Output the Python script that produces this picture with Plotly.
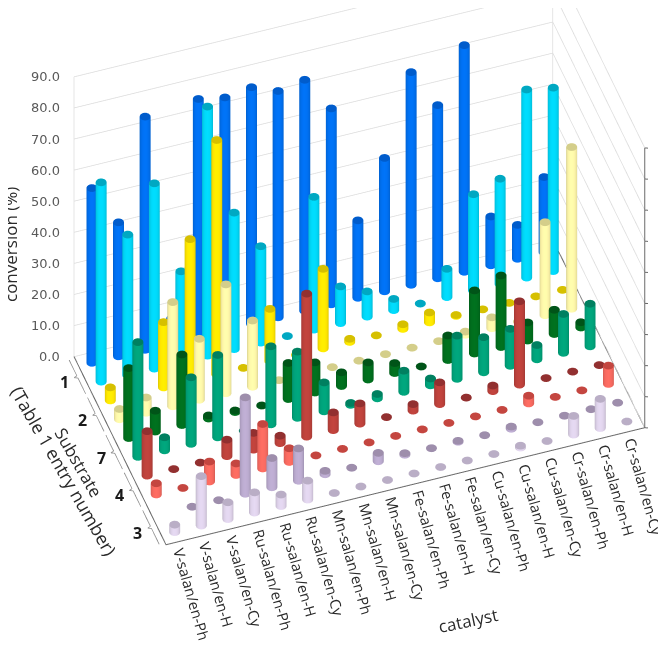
import math
import plotly.graph_objects as go

catalysts = ["V-salan/en-Ph","V-salan/en-H","V-salan/en-Cy","Ru-salan/en-Ph","Ru-salan/en-H","Ru-salan/en-Cy",
             "Mn-salan/en-Ph","Mn-salan/en-H","Mn-salan/en-Cy","Fe-salan/en-Ph","Fe-salan/en-H","Fe-salan/en-Cy",
             "Cu-salan/en-Ph","Cu-salan/en-H","Cu-salan/en-Cy","Cr-salan/en-Ph","Cr-salan/en-H","Cr-salan/en-Cy"]
substrates = ["3","4","7","2","1"]
z_ticks = [0,10,20,30,40,50,60,70,80,90]

lilac  = [2.4,15.9,5.4,6.5,3.7,6.1,0,0,0,0,0,0,0,0.6,0,6,9.4,0]
purple = [None,0,0,31,9.4,10.4,1.1,0,2.7,0.5,0,0.3,0,0.7,0,0,0,0]
salmon = [3.6,0,6.4,3.7,14.3,4.4,0,0,0,0,0,0,0,0,2.5,0,0,5.9]
red    = [14.3,0,0,5.3,5.4,2.4,46,5.7,6.5,0,2.1,7,0,1.8,26.8,0,0,0]
teal   = [36.9,4.2,21.4,26.5,0,25.1,21.3,9.3,0.6,1.4,6.8,2.2,13.9,11.3,11.9,4.6,12.5,13.7]
green  = [22.5,6.7,22.7,1,0.5,0,11.6,9.7,4.4,5.5,3.2,0,7.9,20.3,23,5.8,7.8,1.7]
pale   = [3.3,4.9,33.5,19.6,35,21.3,0,0,0,0,0,0,0,1,3.5,0,29.9,52]
yellow = [4.2,0,21,45.6,75.4,0,16.9,0,25.6,1,0,1.5,3.2,0.3,0,0,0,0]
cyan   = [64.1,45.2,59.6,29.2,80.1,43.9,31,0,42.7,11.8,8.1,3.6,0,9.1,31,33.9,60.5,59]
blue   = [56.2,43.1,75,8,76.5,74.9,76.1,72.8,74.3,63,24.9,42.9,68.4,55.7,72.9,15.7,10.9,24.2]

rows = [lilac,purple,salmon,red,teal,green,pale,yellow,cyan,blue]
side_colors = [(222,210,234),(186,170,206),(246,106,96),(188,66,60),(0,162,122),(0,110,30),(253,245,168),(255,230,0),(0,214,246),(0,112,240)]
cap_colors  = [(186,174,198),(158,142,172),(196,70,64),(146,48,48),(0,128,96),(0,84,24),(212,206,138),(214,192,0),(0,168,194),(0,92,204)]

# scene geometry
xr = [-1.5, 17.6]; yr = [-0.6, 9.6]; zr = [-0.5, 90.5]
PX_XY = 28.02; PX_Z = 4.378; K = 1/323.6
sx, sy, sz = PX_XY*K, PX_XY*K, PX_Z*K
az = math.radians(19.07); el = math.radians(45)
R = 1.5
TX, TZ = 340, 332.5

xc, yc, zc = sum(xr)/2, sum(yr)/2, sum(zr)/2
x_t = (TX-173.7+9.2*yc)/26.6
z_t = (531.35-6.5*x_t-18.8*yc-TZ)/3.1

def shade(c, f):
    return "rgb(%d,%d,%d)" % tuple(min(255, int(v*f)) for v in c)

N = 20; RAD = 0.195
fig = go.Figure()
for r, vals in enumerate(rows):
    X,Y,Z,VC,I,J,K_ = [],[],[],[],[],[],[]
    for i, v in enumerate(vals):
        if v is None:
            continue
        base = len(X)
        h = max(v, 0.02)
        for t in range(N):
            a = 2*math.pi*t/N
            cx, cy = math.cos(a), math.sin(a)
            s = cx*math.cos(az) - cy*math.sin(az)
            f = 0.82 + 0.22*math.sqrt(max(0, 1-s*s))
            X += [i+RAD*cx]*2; Y += [r+RAD*cy]*2; Z += [0,h]
            VC += [shade(side_colors[r], f)]*2
            n = (t+1) % N
            p, q = base+2*t, base+2*n
            I += [p,q]; J += [q,q+1]; K_ += [p+1,p+1]
        capc = len(X)
        X.append(i); Y.append(r); Z.append(h); VC.append(shade(cap_colors[r],1))
        for t in range(N):
            a = 2*math.pi*t/N
            X.append(i+RAD*math.cos(a)); Y.append(r+RAD*math.sin(a)); Z.append(h)
            VC.append(shade(cap_colors[r],1))
            I.append(capc); J.append(capc+1+t); K_.append(capc+1+(t+1)%N)
    fig.add_trace(go.Mesh3d(x=X,y=Y,z=Z,i=I,j=J,k=K_,vertexcolor=VC,flatshading=False,hoverinfo="skip",
                            lighting=dict(ambient=1,diffuse=0,specular=0,roughness=1,fresnel=0)))

def line(xs, ys, zs, color, width):
    fig.add_trace(go.Scatter3d(x=xs,y=ys,z=zs,mode="lines",line=dict(color=color,width=width),hoverinfo="skip"))

x0,x1,y0,y1 = -0.5,17.5,-0.5,9.5
GRID="#dcdcdc"; DARK="#6a6a6a"
for t in z_ticks:
    line([x0,x1,x1],[y1,y1,y0],[t,t,t],GRID,1.5)
line([x0,x0],[y1,y1],[0,90],GRID,1.5)
line([x1,x1],[y1,y1],[0,90],GRID,1.5)
line([x0,x0,x1,x1],[y1,y0,y0,y1],[0,0,0,0],DARK,2)
line([x1,x1],[y0,y0],[0,90],DARK,2)
for t in z_ticks:
    line([x1,x1+0.11],[y0,y0-0.05],[t,t],DARK,2)
for k in range(5):
    a = 2*k-0.4; b = 2*k+1.4; m = 2*k+0.5
    line([x0-0.22,x0-0.22,x0-0.34,x0-0.22,x0-0.22],[a,m-0.06,m,m+0.06,b],[0]*5,"#8a8a8a",1.5)

ann = []
for t in z_ticks:
    ann.append(dict(x=x0,y=y1,z=t,text="%.1f"%t,showarrow=False,xanchor="right",yanchor="middle",xshift=-12,
                    font=dict(family="DejaVu Sans",size=13,color="#595959")))
for i, c in enumerate(catalysts):
    ann.append(dict(x=i,y=y0,z=0,text=c,showarrow=False,textangle=74,xanchor="left",yanchor="top",xshift=-13,yshift=-2,
                    font=dict(family="Open Sans",size=14.7,color="#2a2a2a")))
for k, s in enumerate(substrates):
    ann.append(dict(x=x0,y=2*k+0.5,z=0,text="<b>%s</b>"%s,showarrow=False,xshift=-19,yshift=-7,
                    font=dict(family="Open Sans",size=16,color="#1a1a1a")))

fig.update_layout(
    width=666,height=650,margin=dict(l=0,r=0,t=0,b=0),paper_bgcolor="white",showlegend=False,
    scene=dict(
        domain=dict(x=[0,1],y=[0,1]),bgcolor="white",
        xaxis=dict(range=xr,visible=False),yaxis=dict(range=yr,visible=False),zaxis=dict(range=zr,visible=False),
        aspectmode="manual",
        aspectratio=dict(x=(xr[1]-xr[0])*sx,y=(yr[1]-yr[0])*sy,z=(zr[1]-zr[0])*sz),
        camera=dict(
            projection=dict(type="orthographic"),
            up=dict(x=0,y=0,z=1),
            center=dict(x=(x_t-xc)*sx,y=0,z=(z_t-zc)*sz),
            eye=dict(x=(x_t-xc)*sx-math.sin(az)*math.cos(el)*R,y=-math.cos(az)*math.cos(el)*R,z=(z_t-zc)*sz+math.sin(el)*R),
        ),
        annotations=ann,
    ),
    annotations=[
        dict(x=3,y=237,xref="paper",yref="paper",xanchor="center",yanchor="middle",text="conversion (%)",textangle=-90,showarrow=False,font=dict(family="Open Sans",size=17,color="#2a2a2a")),
        dict(x=71,y=454,xref="paper",yref="paper",xanchor="center",yanchor="middle",text="Substrate",textangle=60,showarrow=False,font=dict(family="Open Sans",size=17,color="#2a2a2a")),
        dict(x=56,y=463,xref="paper",yref="paper",xanchor="center",yanchor="middle",text="(Table 1 entry number)",textangle=60,showarrow=False,font=dict(family="Open Sans",size=18,color="#2a2a2a")),
        dict(x=460,y=612,xref="paper",yref="paper",xanchor="center",yanchor="middle",text="catalyst",textangle=-12,showarrow=False,font=dict(family="Open Sans",size=17,color="#2a2a2a")),
    ],
)
for a in fig.layout.annotations:
    a.x = a.x/666; a.y = 1-a.y/650
fig.write_html("out.html")
